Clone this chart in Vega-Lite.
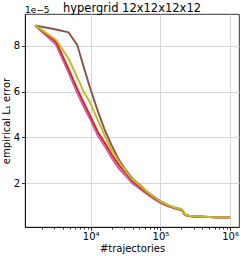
{
  "$schema": "https://vega.github.io/schema/vega-lite/v6.json",
  "width": 214,
  "height": 213,
  "autosize": "none",
  "padding": {"left": 25, "top": 14, "right": 4, "bottom": 29},
  "config": {
    "font": "DejaVu Sans",
    "view": {"stroke": "#000", "strokeWidth": 0.8},
    "axis": {
      "domainColor": "#000",
      "domainWidth": 0.8,
      "tickColor": "#000",
      "tickWidth": 0.8,
      "labelColor": "#000",
      "titleColor": "#000",
      "labelFontSize": 10,
      "titleFontSize": 10,
      "titleFontWeight": "normal",
      "gridColor": "#d6d6d6",
      "gridWidth": 1
    }
  },
  "title": {"text": "hypergrid 12x12x12x12", "fontSize": 11.5, "fontWeight": "normal", "color": "#000", "baseline": "alphabetic", "offset": -17},
  "datasets": {
    "curves": [
      {"x": 1600, "purple": 8.9, "pink": 8.9, "red": 8.9, "brown": 8.9, "olive": 8.9},
      {"x": 3200, "purple": 8.05, "pink": 8.12, "red": 8.17, "brown": 8.72, "olive": 8.26},
      {"x": 4800, "purple": 6.85, "pink": 6.93, "red": 7.0, "brown": 8.6, "olive": 7.45},
      {"x": 6400, "purple": 5.95, "pink": 6.04, "red": 6.12, "brown": 8.05, "olive": 6.63},
      {"x": 8000, "purple": 5.33, "pink": 5.42, "red": 5.5, "brown": 7.05, "olive": 5.97},
      {"x": 9600, "purple": 4.86, "pink": 4.93, "red": 5.0, "brown": 6.25, "olive": 5.57},
      {"x": 12800, "purple": 4.05, "pink": 4.12, "red": 4.2, "brown": 5.1, "olive": 4.72},
      {"x": 16000, "purple": 3.6, "pink": 3.67, "red": 3.75, "brown": 4.3, "olive": 4.05},
      {"x": 20000, "purple": 3.1, "pink": 3.17, "red": 3.25, "brown": 3.65, "olive": 3.45},
      {"x": 25600, "purple": 2.62, "pink": 2.7, "red": 2.78, "brown": 3.0, "olive": 2.92},
      {"x": 32000, "purple": 2.3, "pink": 2.36, "red": 2.42, "brown": 2.55, "olive": 2.5},
      {"x": 40000, "purple": 1.98, "pink": 2.03, "red": 2.08, "brown": 2.18, "olive": 2.15},
      {"x": 51200, "purple": 1.74, "pink": 1.77, "red": 1.8, "brown": 1.9, "olive": 1.88},
      {"x": 64000, "purple": 1.52, "pink": 1.55, "red": 1.57, "brown": 1.63, "olive": 1.62},
      {"x": 80000, "purple": 1.32, "pink": 1.34, "red": 1.36, "brown": 1.41, "olive": 1.4},
      {"x": 100000, "purple": 1.13, "pink": 1.15, "red": 1.16, "brown": 1.21, "olive": 1.2},
      {"x": 128000, "purple": 0.99, "pink": 1.0, "red": 1.0, "brown": 1.03, "olive": 1.03},
      {"x": 160000, "purple": 0.89, "pink": 0.9, "red": 0.9, "brown": 0.93, "olive": 0.93},
      {"x": 192000, "purple": 0.83, "pink": 0.84, "red": 0.84, "brown": 0.86, "olive": 0.86},
      {"x": 204800, "purple": 0.8, "pink": 0.81, "red": 0.81, "brown": 0.83, "olive": 0.83},
      {"x": 224000, "purple": 0.6, "pink": 0.61, "red": 0.61, "brown": 0.62, "olive": 0.62},
      {"x": 256000, "purple": 0.56, "pink": 0.56, "red": 0.56, "brown": 0.57, "olive": 0.57},
      {"x": 320000, "purple": 0.53, "pink": 0.53, "red": 0.53, "brown": 0.54, "olive": 0.54},
      {"x": 400000, "purple": 0.52, "pink": 0.52, "red": 0.52, "brown": 0.52, "olive": 0.52},
      {"x": 512000, "purple": 0.51, "pink": 0.51, "red": 0.51, "brown": 0.51, "olive": 0.51},
      {"x": 640000, "purple": 0.505, "pink": 0.505, "red": 0.505, "brown": 0.505, "olive": 0.505},
      {"x": 800000, "purple": 0.5, "pink": 0.5, "red": 0.5, "brown": 0.5, "olive": 0.5},
      {"x": 1000000, "purple": 0.5, "pink": 0.5, "red": 0.5, "brown": 0.5, "olive": 0.5}
    ]
  },
  "layer": [
    {
      "data": {"name": "curves"},
      "transform": [{"fold": ["purple", "pink", "red", "brown", "olive"], "as": ["run", "err"]}],
      "mark": {"type": "line", "strokeWidth": 2, "clip": true},
      "encoding": {
        "x": {
          "field": "x",
          "type": "quantitative",
          "scale": {"type": "log", "domain": [1141, 1343000], "nice": false},
          "axis": {
            "title": "#trajectories",
            "titlePadding": 2,
            "labelPadding": 1,
            "values": [2000, 3000, 4000, 5000, 6000, 7000, 8000, 9000, 10000, 20000, 30000, 40000, 50000, 60000, 70000, 80000, 90000, 100000, 200000, 300000, 400000, 500000, 600000, 700000, 800000, 900000, 1000000],
            "labelExpr": "datum.value == 10000 ? '10⁴' : datum.value == 100000 ? '10⁵' : datum.value == 1000000 ? '10⁶' : ''",
            "labelOverlap": false,
            "tickSize": {"condition": {"test": "indexof([10000,100000,1000000], datum.value) >= 0", "value": 3.5}, "value": 2},
            "gridOpacity": {"condition": {"test": "indexof([10000,100000,1000000], datum.value) >= 0", "value": 1}, "value": 0}
          }
        },
        "y": {
          "field": "err",
          "type": "quantitative",
          "scale": {"domain": [0.074, 9.4], "nice": false, "zero": false},
          "axis": {"title": "empirical L₁ error", "values": [2, 4, 6, 8], "format": "d", "tickSize": 3.5, "labelPadding": 2, "titlePadding": 2}
        },
        "color": {
          "field": "run",
          "type": "nominal",
          "scale": {"domain": ["purple", "pink", "red", "brown", "olive"], "range": ["#9467bd", "#e377c2", "#ee1c1c", "#8c564b", "#bcbd22"]},
          "legend": null
        }
      }
    },
    {
      "data": {"values": [{"t": "1e−5"}]},
      "mark": {"type": "text", "align": "left", "baseline": "alphabetic", "dy": -1, "fontSize": 9, "color": "#000"},
      "encoding": {
        "x": {"datum": 1141, "type": "quantitative"},
        "y": {"datum": 9.4, "type": "quantitative"},
        "text": {"field": "t"}
      }
    }
  ]
}
